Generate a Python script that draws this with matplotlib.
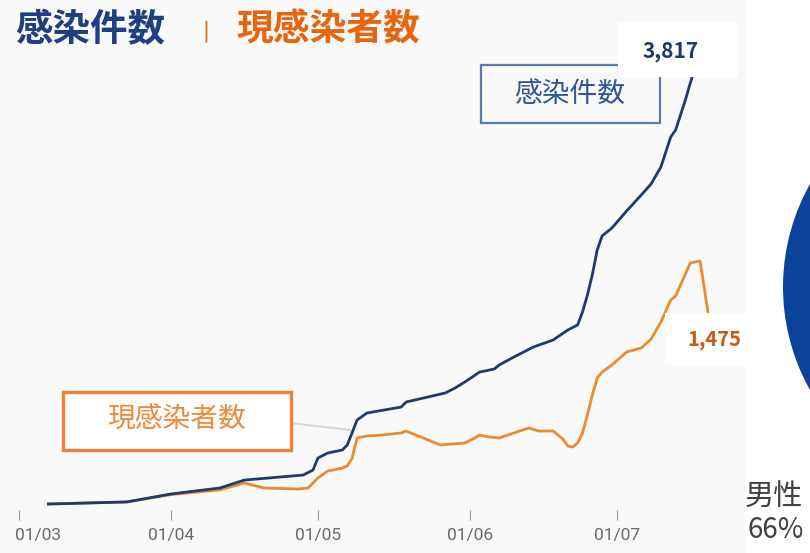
import matplotlib
matplotlib.use("Agg")
import matplotlib.pyplot as plt
import matplotlib.dates as mdates
import matplotlib.transforms as mtransforms
from matplotlib.patches import Rectangle
import pandas as pd

plt.rcParams['font.family'] = ['Noto Sans CJK JP', 'DejaVu Sans']

# ---- data ----
cases_dates = ["2021-03-07", "2021-03-23", "2021-04-01", "2021-04-11", "2021-04-16", "2021-04-28",
               "2021-04-30", "2021-05-01", "2021-05-03", "2021-05-06", "2021-05-07", "2021-05-09",
               "2021-05-11", "2021-05-18", "2021-05-19", "2021-05-27", "2021-05-29", "2021-05-31",
               "2021-06-03", "2021-06-06", "2021-06-07", "2021-06-10", "2021-06-14", "2021-06-18",
               "2021-06-21", "2021-06-23", "2021-06-24", "2021-06-25", "2021-06-26", "2021-06-27",
               "2021-06-28", "2021-06-30", "2021-07-03", "2021-07-06", "2021-07-08", "2021-07-10",
               "2021-07-12", "2021-07-13", "2021-07-15", "2021-07-16", "2021-07-17", "2021-07-19",
               "2021-07-20"]
cases_values = [8, 25, 90, 139, 204, 245,
                286, 384, 425, 450, 491, 695,
                752, 801, 842, 916, 957, 1006,
                1087, 1112, 1145, 1210, 1292, 1349,
                1431, 1472, 1578, 1717, 1881, 2085,
                2200, 2265, 2404, 2535, 2625, 2764,
                3009, 3066, 3312, 3450, 3581, 3786,
                3817]

active_dates = ["2021-03-07", "2021-03-23", "2021-04-01", "2021-04-11", "2021-04-16", "2021-04-20",
                "2021-04-27", "2021-04-29", "2021-05-01", "2021-05-03", "2021-05-06", "2021-05-07",
                "2021-05-08", "2021-05-09", "2021-05-11", "2021-05-14", "2021-05-18", "2021-05-19",
                "2021-05-21", "2021-05-26", "2021-05-31", "2021-06-02", "2021-06-03", "2021-06-05",
                "2021-06-07", "2021-06-10", "2021-06-13", "2021-06-15", "2021-06-18", "2021-06-20",
                "2021-06-21", "2021-06-22", "2021-06-23", "2021-06-24", "2021-06-25", "2021-06-26",
                "2021-06-27", "2021-06-28", "2021-06-30", "2021-07-03", "2021-07-06", "2021-07-08",
                "2021-07-10", "2021-07-12", "2021-07-13", "2021-07-16", "2021-07-18", "2021-07-20"]
active_values = [8, 25, 85, 123, 180, 139,
                 131, 139, 221, 278, 302, 319,
                 384, 548, 564, 572, 589, 605,
                 572, 491, 507, 548, 572, 556,
                 548, 589, 630, 605, 605, 540,
                 482, 474, 507, 589, 736, 899,
                 1038, 1087, 1145, 1251, 1284, 1357,
                 1496, 1676, 1709, 1979, 1995, 1475]

tick_dates = ["2021-03-01", "2021-04-01", "2021-05-01", "2021-06-01", "2021-07-01"]
tick_labels = ["01/03", "01/04", "01/05", "01/06", "01/07"]

gender_labels = ["男性", "女性"]
gender_share = [66, 34]

title_left = "感染件数"
title_right = "現感染者数"
last_cases_label = "3,817"
last_active_label = "1,475"

# ---- figure ----
W, H = 810, 553
fig = plt.figure(figsize=(W / 100, H / 100), dpi=100, facecolor="white")


def fx(x):
    return x / W


def fy(y):
    return 1 - y / H


# light panel background
fig.patches.append(Rectangle((0, 0), fx(745), 1, transform=fig.transFigure,
                             facecolor="#f9f9f9", edgecolor="none", zorder=-10))

ax = fig.add_axes([0, fy(510), fx(745), 1 - fy(510)])
ax.set_facecolor("none")

cd = pd.to_datetime(cases_dates)
ad = pd.to_datetime(active_dates)
ax.plot(ad, active_values, color="#ec8a2e", lw=2.0, solid_joinstyle="round", zorder=3)
ax.plot(cd, cases_values, color="#1f3a70", lw=2.0, solid_joinstyle="round", zorder=4)

base = pd.Timestamp("2021-03-01")
x0 = mdates.date2num(base)
ax.set_xlim(x0 + (0 - 19) / 4.9, x0 + (745 - 19) / 4.9)
ax.set_ylim((505 - 510) / 0.1223, 505 / 0.1223)

for s in ax.spines.values():
    s.set_visible(False)
ax.set_yticks([])
ax.set_xticks(pd.to_datetime(tick_dates))
ax.set_xticklabels(tick_labels)
ax.tick_params(axis="x", direction="out", length=7, width=0.8, color="#9a9a9a",
               pad=6, labelsize=12.5, labelcolor="#6a6a6a")
for lab in ax.get_xticklabels():
    lab.set_family(["Roboto", "DejaVu Sans"])
first = ax.get_xticklabels()[0]
first.set_ha("left")
first.set_transform(first.get_transform() +
                    mtransforms.ScaledTranslation(-4 / 100, 0, fig.dpi_scale_trans))

# leader line for active box
ax.plot([fx(290), fx(350)], [fy(423), fy(430)], transform=fig.transFigure,
        color="#d6d6d6", lw=1.5, zorder=2, clip_on=False)

# annotation boxes
ax.add_patch(Rectangle((fx(481), fy(123)), fx(660) - fx(481), fy(65) - fy(123),
                       transform=fig.transFigure, facecolor="none", edgecolor="#5a7bb0",
                       lw=1.6, zorder=5, clip_on=False))
fig.text(fx(570), fy(94), title_left, ha="center", va="center", fontsize=20,
         color="#2f5597", zorder=6)

ax.add_patch(Rectangle((fx(63), fy(450)), fx(291) - fx(63), fy(392) - fy(450),
                       transform=fig.transFigure, facecolor="white", edgecolor="#ee8136",
                       lw=2.4, zorder=5, clip_on=False))
fig.text(fx(177), fy(420), title_right, ha="center", va="center", fontsize=20,
         color="#ee8a3c", zorder=6)

# end-value labels
ax.add_patch(Rectangle((fx(618), fy(77)), fx(738) - fx(618), fy(22) - fy(77),
                       transform=fig.transFigure, facecolor="white", edgecolor="none",
                       zorder=7, clip_on=False))
fig.text(fx(671), fy(51), last_cases_label, ha="center", va="center", fontsize=15,
         fontweight="bold", color="#1f3864", zorder=8)

ax.add_patch(Rectangle((fx(665), fy(365)), fx(745) - fx(665), fy(313) - fy(365),
                       transform=fig.transFigure, facecolor="white", edgecolor="none",
                       zorder=7, clip_on=False))
fig.text(fx(714), fy(340), last_active_label, ha="center", va="center", fontsize=14.5,
         fontweight="bold", color="#c55a11", zorder=8)

# title
fig.text(fx(15), fy(30), title_left, ha="left", va="center", fontsize=27,
         fontweight="bold", color="#1f3f80")
fig.text(fx(206), fy(31), "|", ha="center", va="center", fontsize=15,
         color="#e8650f", family=["DejaVu Sans"])
fig.text(fx(236), fy(30), title_right, ha="left", va="center", fontsize=26.5,
         fontweight="bold", color="#e8650f")

# partial pie at right edge
pax = fig.add_axes([fx(783), fy(497), 420 / W, 420 / H])
pax.pie(gender_share, colors=["#0d4299", "#ed7d31"], startangle=90,
        counterclock=True, wedgeprops=dict(linewidth=0))
pax.set_aspect("auto")
pax.set_xlim(-1, 1)
pax.set_ylim(-1, 1)
pax.axis("off")

fig.text(fx(774), fy(497), gender_labels[0], ha="center", va="center", fontsize=21,
         color="#404040")
fig.text(fx(776), fy(530), f"{gender_share[0]}%", ha="center", va="center", fontsize=20,
         color="#404040", family=["Noto Sans CJK JP", "DejaVu Sans"])

fig.savefig("out.png", dpi=100)
